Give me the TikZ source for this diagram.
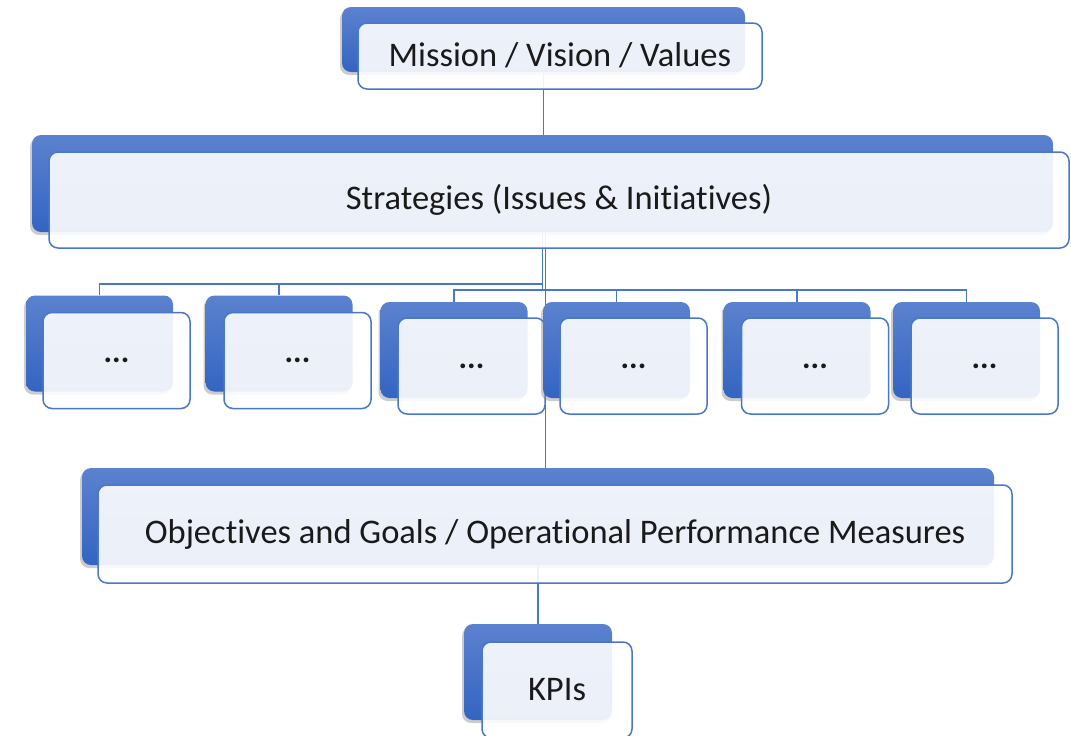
\documentclass[tikz,border=0pt]{standalone}
\usepackage{fontspec}
\setmainfont{Carlito}[Ligatures=NoCommon]
\usetikzlibrary{positioning, shadows, backgrounds}

\definecolor{boxtop}{HTML}{5B82CE}
\definecolor{boxbottom}{HTML}{3464C2}
\definecolor{edgeblue}{HTML}{4A78C8}
\definecolor{labeltext}{HTML}{1A1A1A}

\begin{document}
\begin{tikzpicture}[x=1pt, y=-1pt,
    back/.style={rectangle, rounded corners=9pt, top color=boxtop, bottom color=boxbottom, draw=none, inner sep=0pt,
        drop shadow={shadow xshift=-2pt, shadow yshift=-3pt, opacity=0.4}},
    front/.style={rectangle, rounded corners=9pt, draw=edgeblue, line width=1.5pt, fill=white, fill opacity=0.9, text opacity=1,
        text=labeltext, font=\fontsize{34.5}{41}\selectfont, inner sep=0pt},
    sub/.style={minimum width=147pt, minimum height=96pt, font=\fontsize{32}{38}\selectfont\bfseries},
    link/.style={draw=edgeblue, line width=1.6pt}]
    \useasboundingbox (0,0) rectangle (1071,736);

    % mission and strategies
    \node[back, minimum width=403pt, minimum height=65pt] (missionbg) at (543.5,39.5) {};
    \node[front, minimum width=404pt, minimum height=66pt] (mission) at (560,56) {\raisebox{3pt}{Mission / Vision / Values}};
    \node[back, minimum width=1021pt, minimum height=97pt] (strategiesbg) at (542.5,183.5) {};
    \node[front, minimum width=1020pt, minimum height=96pt] (strategies) at (559,200) {Strategies (Issues \& Initiatives)};

    % the six strategy items
    \node[back, sub] (sub1bg) at (99.5,343.5) {};
    \node[front, sub] (sub1) at (116.5,360.5) {...};
    \node[back, sub] (sub2bg) at (279,343.5) {};
    \node[front, sub] (sub2) at (297.5,360.5) {...};
    \node[back, sub] (sub3bg) at (454,350) {};
    \node[front, sub] (sub3) at (471.5,366) {...};
    \node[back, sub] (sub4bg) at (616.5,350) {};
    \node[front, sub] (sub4) at (633.5,366) {...};
    \node[back, sub] (sub5bg) at (797,350) {};
    \node[front, sub] (sub5) at (815,366) {...};
    \node[back, sub] (sub6bg) at (966.5,350) {};
    \node[front, sub] (sub6) at (984.5,366) {...};

    % objectives and KPIs
    \node[back, minimum width=912pt, minimum height=97pt] (objectivesbg) at (538,516.5) {};
    \node[front, minimum width=914pt, minimum height=98pt] (objectives) at (555,534) {Objectives and Goals / Operational Performance Measures};
    \node[back, minimum width=148pt, minimum height=96pt] (kpisbg) at (538,672) {};
    \node[front, minimum width=150pt, minimum height=96pt] (kpis) at (557,690) {KPIs};

    % connectors sit behind the boxes
    \begin{scope}[on background layer]
        \draw[link] (missionbg.south) -- (missionbg.south |- strategiesbg.north);
        \draw[link] (strategiesbg.south) -- ++(0,52) -| (sub1bg.north);
        \draw[link] (strategiesbg.south) -- ++(0,52) -| (sub2bg.north);
        \draw[link] (strategiesbg.south) -- ++(0,58) -| (sub3bg.north);
        \draw[link] (strategiesbg.south) -- ++(0,58) -| (sub4bg.north);
        \draw[link] (strategiesbg.south) -- ++(0,58) -| (sub5bg.north);
        \draw[link] (strategiesbg.south) -- ++(0,58) -| (sub6bg.north);
        \draw[link] ([xshift=3pt]strategiesbg.south) -- ([xshift=3pt]strategiesbg.south |- objectivesbg.north);
        \draw[link] (objectivesbg.south) -- (kpisbg.north);
    \end{scope}
\end{tikzpicture}
\end{document}
